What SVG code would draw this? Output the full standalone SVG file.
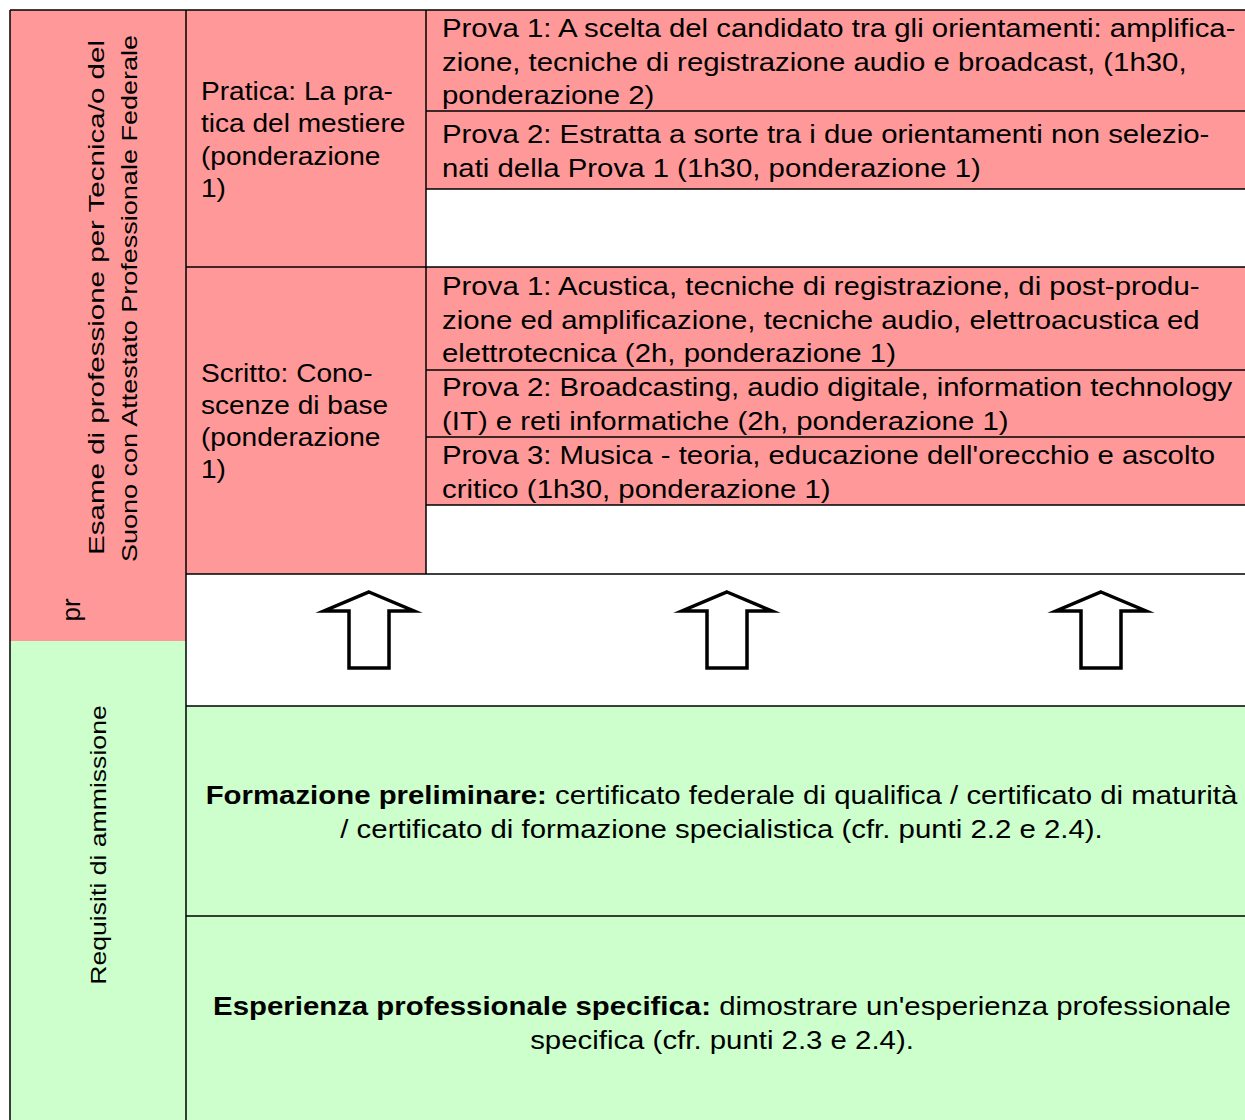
<svg xmlns="http://www.w3.org/2000/svg" width="1245" height="1120" viewBox="0 0 1245 1120">
<style>
.t{font-family:"Liberation Sans",Arial,Helvetica,sans-serif;font-size:26px;fill:#000}
.v{font-family:"Liberation Sans",Arial,Helvetica,sans-serif;font-size:22px;fill:#000}
.b{font-weight:bold}
.red{fill:#ff9999}
.grn{fill:#ccffcc}
.wht{fill:#ffffff}
.ln{stroke:#000;stroke-width:1.5;fill:none}
.arr{fill:#fff;stroke:#000;stroke-width:3.5;stroke-linejoin:miter;stroke-miterlimit:10}
</style>
<rect x="0" y="0" width="1245" height="1120" fill="#fff"/>
<g id="side-exam">
<rect class="red" x="10" y="10" width="176" height="631"/>
<text class="v" transform="translate(104 555) rotate(-90)" textLength="515" lengthAdjust="spacingAndGlyphs">Esame di professione per Tecnica/o del</text>
<text class="v" transform="translate(137 562) rotate(-90)" textLength="527" lengthAdjust="spacingAndGlyphs">Suono con Attestato Professionale Federale</text>
<text class="t" transform="translate(80 610) rotate(-90)" text-anchor="middle">pr</text>
</g>
<g id="side-req">
<rect class="grn" x="10" y="641" width="176" height="479"/>
<text class="v" text-anchor="middle" transform="translate(106 845) rotate(-90) scale(1.21 1)">Requisiti di ammissione</text>
</g>
<g id="pratica">
<rect class="red" x="186" y="10" width="240" height="257"/>
<text class="t" transform="translate(201 0) scale(1.08 1)"><tspan x="0" y="100.5">Pratica: La pra-</tspan><tspan x="0" y="132.5">tica del mestiere</tspan><tspan x="0" y="165">(ponderazione</tspan><tspan x="0" y="197.5">1)</tspan></text>
</g>
<g id="pratica-prova1">
<rect class="red" x="426" y="10" width="819" height="101"/>
<text class="t" transform="translate(442 0) scale(1.13 1)"><tspan x="0" y="37.5">Prova 1: A scelta del candidato tra gli orientamenti: amplifica-</tspan><tspan x="0" y="71">zione, tecniche di registrazione audio e broadcast, (1h30,</tspan><tspan x="0" y="104.5">ponderazione 2)</tspan></text>
</g>
<g id="pratica-prova2">
<rect class="red" x="426" y="111" width="819" height="78"/>
<text class="t" transform="translate(442 0) scale(1.13 1)"><tspan x="0" y="143.5">Prova 2: Estratta a sorte tra i due orientamenti non selezio-</tspan><tspan x="0" y="177.5">nati della Prova 1 (1h30, ponderazione 1)</tspan></text>
</g>
<g id="pratica-empty">
<rect class="wht" x="426" y="189" width="819" height="78"/>
</g>
<g id="scritto">
<rect class="red" x="186" y="267" width="240" height="307"/>
<text class="t" transform="translate(201 0) scale(1.08 1)"><tspan x="0" y="382.5">Scritto: Cono-</tspan><tspan x="0" y="414.5">scenze di base</tspan><tspan x="0" y="446.5">(ponderazione</tspan><tspan x="0" y="478.5">1)</tspan></text>
</g>
<g id="scritto-prova1">
<rect class="red" x="426" y="267" width="819" height="103"/>
<text class="t" transform="translate(442 0) scale(1.13 1)"><tspan x="0" y="295.5">Prova 1: Acustica, tecniche di registrazione, di post-produ-</tspan><tspan x="0" y="329.5">zione ed amplificazione, tecniche audio, elettroacustica ed</tspan><tspan x="0" y="362.5">elettrotecnica (2h, ponderazione 1)</tspan></text>
</g>
<g id="scritto-prova2">
<rect class="red" x="426" y="370" width="819" height="67"/>
<text class="t" transform="translate(442 0) scale(1.13 1)"><tspan x="0" y="396.5">Prova 2: Broadcasting, audio digitale, information technology</tspan><tspan x="0" y="430.5">(IT) e reti informatiche (2h, ponderazione 1)</tspan></text>
</g>
<g id="scritto-prova3">
<rect class="red" x="426" y="437" width="819" height="68"/>
<text class="t" transform="translate(442 0) scale(1.13 1)"><tspan x="0" y="464.5">Prova 3: Musica - teoria, educazione dell'orecchio e ascolto</tspan><tspan x="0" y="498.5">critico (1h30, ponderazione 1)</tspan></text>
</g>
<g id="scritto-empty">
<rect class="wht" x="426" y="505" width="819" height="69"/>
</g>
<g id="formazione">
<rect class="grn" x="186" y="706" width="1059" height="210"/>
<text class="t" text-anchor="middle" transform="translate(721.5 0) scale(1.13 1)"><tspan x="0" y="804.5"><tspan class="b">Formazione preliminare:</tspan> certificato federale di qualifica / certificato di maturità</tspan><tspan x="0" y="838.5">/ certificato di formazione specialistica (cfr. punti 2.2 e 2.4).</tspan></text>
</g>
<g id="esperienza">
<rect class="grn" x="186" y="916" width="1059" height="204"/>
<text class="t" text-anchor="middle" transform="translate(722 0) scale(1.13 1)"><tspan x="0" y="1015.5"><tspan class="b">Esperienza professionale specifica:</tspan> dimostrare un'esperienza professionale</tspan><tspan x="0" y="1049.5">specifica (cfr. punti 2.3 e 2.4).</tspan></text>
</g>
<g id="connectors">
<polygon class="arr" points="369,592 414,611 389,611 389,668 349,668 349,611 324,611"/>
<polygon class="arr" points="727,592 772,611 747,611 747,668 707,668 707,611 682,611"/>
<polygon class="arr" points="1101,592 1146,611 1121,611 1121,668 1081,668 1081,611 1056,611"/>
</g>
<g id="grid">
<path class="ln" d="M10,10V1120M10,10H1245M186,10V1120M426,10V574M186,267H1245M186,574H1245M186,706H1245M186,916H1245M426,111H1245M426,189H1245M426,370H1245M426,437H1245M426,505H1245"/>
</g>
</svg>
